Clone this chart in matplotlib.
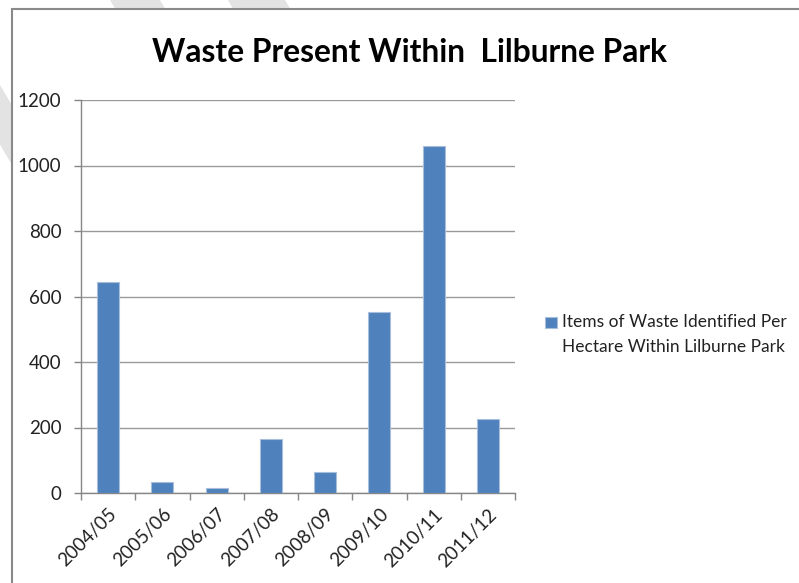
import matplotlib
matplotlib.use("Agg")
import matplotlib.pyplot as plt
from matplotlib.patches import Polygon, Rectangle
from matplotlib.transforms import ScaledTranslation
import numpy as np

# Survey data: items of waste per hectare, Lilburne Park
seasons = ["2004/05", "2005/06", "2006/07", "2007/08",
           "2008/09", "2009/10", "2010/11", "2011/12"]
items_per_hectare = [645, 33, 14, 164, 65, 552, 1059, 226]
y_ticks = [0, 200, 400, 600, 800, 1000, 1200]
chart_title = "Waste Present Within  Lilburne Park"
series_label_lines = ["Items of Waste Identified Per", "Hectare Within Lilburne Park"]

W, H = 799, 583
FONT = "Lato"
BAR = "#4F81BD"
BAR_EDGE = "#a7bfdd"
GRID = "#9a9a9a"
AXIS = "#868686"
TEXT = "#222222"
TICK_SIZE = 13.5

fig = plt.figure(figsize=(W / 100, H / 100), dpi=100)
fig.patch.set_facecolor("white")


def px(x, y):
    return (x / W, 1 - y / H)


# light diagonal page stripes behind the chart frame
slope = 1.7
for x0a, x0b in [(110, 160), (228, 285), (-85, -50)]:
    yb = 320
    pts = [px(x0a, 0), px(x0b, 0), px(x0b + yb / slope, yb), px(x0a + yb / slope, yb)]
    fig.patches.append(Polygon(pts, closed=True, transform=fig.transFigure,
                               facecolor="#e3e3e3", edgecolor="none", zorder=0))

# chart frame (runs off the right and bottom edges)
fx, fy = px(12, 9)
fig.patches.append(Rectangle((fx, -0.1), 1.2, fy + 0.1, transform=fig.transFigure,
                             facecolor="white", edgecolor="#8a8a8a", linewidth=1.5,
                             zorder=1))

left, top, right, bottom = 81, 100, 515, 493
ax = fig.add_axes([left / W, 1 - bottom / H, (right - left) / W, (bottom - top) / H])
ax.set_zorder(2)
ax.patch.set_alpha(0)

x = np.arange(len(seasons))
ax.bar(x, items_per_hectare, width=0.41, color=BAR, edgecolor=BAR_EDGE,
       linewidth=0.8, zorder=3)

ax.set_xlim(-0.5, len(seasons) - 0.5)
ax.set_ylim(0, 1200)
ax.set_yticks(y_ticks)
ax.set_yticklabels([str(v) for v in y_ticks], fontfamily=FONT, fontsize=TICK_SIZE,
                   color=TEXT)
ax.yaxis.grid(True, color=GRID, linewidth=1.0, zorder=0)
ax.set_axisbelow(True)

ax.set_xticks(x)
ax.set_xticklabels(seasons, rotation=45, ha="right", rotation_mode="anchor",
                   fontfamily=FONT, fontsize=TICK_SIZE, color=TEXT)
shift = ScaledTranslation(5 / 100, 0, fig.dpi_scale_trans)
for lab in ax.get_xticklabels():
    lab.set_transform(lab.get_transform() + shift)
ax.set_xticks(np.arange(-0.5, len(seasons), 1.0), minor=True)
ax.tick_params(axis="x", which="major", length=0, pad=9)
ax.tick_params(axis="x", which="minor", length=5, color=AXIS, width=1)
ax.tick_params(axis="y", length=5, color=AXIS, width=1, pad=9)

for s in ["top", "right"]:
    ax.spines[s].set_visible(False)
for s in ["left", "bottom"]:
    ax.spines[s].set_color(AXIS)
    ax.spines[s].set_linewidth(1.0)

tx, ty = px(409.5, 52)
fig.text(tx, ty, chart_title, ha="center", va="center", fontfamily=FONT,
         fontweight="bold", fontsize=22.9, color="black", zorder=3)

# legend: swatch beside the first line of a two-line label
sx0, sy0 = px(545, 328)
sx1, sy1 = px(557, 317)
fig.patches.append(Rectangle((sx0, sy0), sx1 - sx0, sy1 - sy0, transform=fig.transFigure,
                             facecolor=BAR, edgecolor=BAR_EDGE, linewidth=0.8, zorder=3))
for line, yc in zip(series_label_lines, [322, 347]):
    lx, ly = px(562, yc)
    fig.text(lx, ly, line, ha="left", va="center", fontfamily=FONT, fontsize=12.5,
             color=TEXT, zorder=3)

fig.savefig("out.png", dpi=100)
